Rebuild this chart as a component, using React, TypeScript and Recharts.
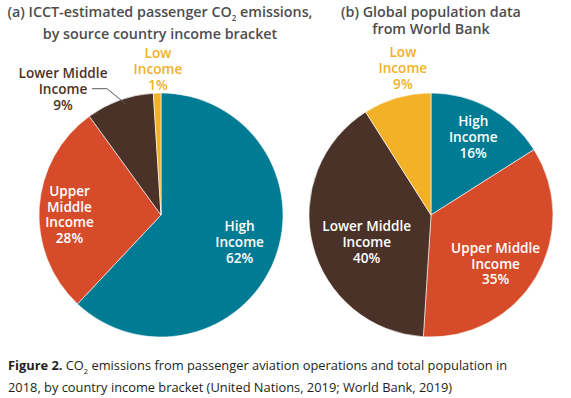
import React from "react";
import { PieChart, Pie, Cell } from "recharts";

// slices go clockwise from 12 o'clock
const categories = ["High Income", "Upper Middle Income", "Lower Middle Income", "Low Income"];
const emissionsShare = [62, 28, 9, 1];
const populationShare = [16, 35, 40, 9];
const sliceColors = ["#007b94", "#d64c2a", "#4b3229", "#f2b127"];

const emissionsLabelLines = [
  ["High", "Income", "62%"],
  ["Upper", "Middle", "Income", "28%"],
  ["Lower Middle", "Income", "9%"],
  ["Low", "Income", "1%"],
];
const populationLabelLines = [
  ["High", "Income", "16%"],
  ["Upper Middle", "Income", "35%"],
  ["Lower Middle", "Income", "40%"],
  ["Low", "Income", "9%"],
];

// label placement: radius factor, angle nudge (deg), outside = coloured text
const emissionsLabelPos = [
  { r: 0.68, shift: 3, outside: false, leader: false },
  { r: 0.75, shift: 3, outside: false, leader: false },
  { r: 1.31, shift: 18, outside: true, leader: true },
  { r: 1.2, shift: -0.6, outside: true, leader: false },
];
const populationLabelPos = [
  { r: 0.73, shift: 0.5, outside: false, leader: false },
  { r: 0.66, shift: -6, outside: false, leader: false },
  { r: 0.57, shift: 8, outside: false, leader: false },
  { r: 1.23, shift: -5.4, outside: true, leader: false },
];

const FONT = "'Open Sans', sans-serif";
const RAD = Math.PI / 180;

const toRows = (values: number[]) =>
  categories.map((name, i) => ({ name, value: values[i] }));

function makeLabel(lines: string[][], pos: typeof emissionsLabelPos) {
  return (props: any) => {
    const { cx, cy, midAngle, outerRadius, index } = props;
    const p = pos[index];
    const a = (midAngle + p.shift) * RAD;
    const x = cx + outerRadius * p.r * Math.cos(a);
    const y = cy - outerRadius * p.r * Math.sin(a);
    const ls = lines[index];
    const lh = 15.8;
    const top = y - ((ls.length - 1) * lh) / 2;
    const fill = p.outside ? sliceColors[index] : "#ffffff";
    let leader = null;
    if (p.leader) {
      const ma = (midAngle - 2) * RAD;
      const ax = cx + outerRadius * 0.96 * Math.cos(ma);
      const ay = cy - outerRadius * 0.96 * Math.sin(ma);
      const ly = top + lh;
      leader = (
        <polyline
          points={`${x + 29},${ly} ${x + 44},${ly} ${ax},${ay}`}
          fill="none"
          stroke="#58595b"
          strokeWidth={1}
        />
      );
    }
    return (
      <g>
        {leader}
        <text
          x={x}
          y={top}
          fill={fill}
          textAnchor="middle"
          fontFamily={FONT}
          fontWeight={600}
          fontSize={13.6}
        >
          {ls.map((t, i) => (
            <tspan key={i} x={x} y={top + i * lh} dominantBaseline="central">
              {t}
            </tspan>
          ))}
        </text>
      </g>
    );
  };
}

const titleStyle: React.CSSProperties = {
  position: "absolute",
  top: 4,
  textAlign: "center",
  fontFamily: FONT,
  fontWeight: 600,
  fontSize: 14.3,
  lineHeight: "16.5px",
  color: "#4d4d4f",
  whiteSpace: "nowrap",
};

export default function App() {
  return (
    <div style={{ position: "relative", width: 571, height: 398, background: "#fff", overflow: "hidden" }}>
      <style>{`body{margin:0}`}</style>
      <div style={{ ...titleStyle, left: 0, width: 320 }}>
        (a) ICCT-estimated passenger CO<sub style={{ fontSize: 8 }}>2</sub> emissions,
        <br />
        by source country income bracket
      </div>
      <div style={{ ...titleStyle, left: 331, width: 200 }}>
        (b) Global population data
        <br />
        from World Bank
      </div>
      <PieChart
        width={571}
        height={398}
        margin={{ top: 0, right: 0, bottom: 0, left: 0 }}
        style={{ position: "absolute", left: 0, top: 0 }}
      >
        <Pie
          data={toRows(emissionsShare)}
          dataKey="value"
          nameKey="name"
          cx={161}
          cy={215}
          outerRadius={122}
          startAngle={90}
          endAngle={-270}
          stroke="#ffffff"
          strokeWidth={0.6}
          labelLine={false}
          label={makeLabel(emissionsLabelLines, emissionsLabelPos)}
          isAnimationActive={false}
        >
          {emissionsShare.map((_, i) => (
            <Cell key={i} fill={sliceColors[i]} />
          ))}
        </Pie>
        <Pie
          data={toRows(populationShare)}
          dataKey="value"
          nameKey="name"
          cx={431}
          cy={215}
          outerRadius={122}
          startAngle={90}
          endAngle={-270}
          stroke="#ffffff"
          strokeWidth={0.6}
          labelLine={false}
          label={makeLabel(populationLabelLines, populationLabelPos)}
          isAnimationActive={false}
        >
          {populationShare.map((_, i) => (
            <Cell key={i} fill={sliceColors[i]} />
          ))}
        </Pie>
      </PieChart>
      <div
        style={{
          position: "absolute",
          left: 8,
          top: 357,
          fontFamily: FONT,
          fontSize: 12.85,
          lineHeight: "16.5px",
          color: "#231f20",
          whiteSpace: "nowrap",
        }}
      >
        <b>Figure 2.</b> CO<sub style={{ fontSize: 7.5 }}>2</sub> emissions from passenger aviation operations and total population in
        <br />
        2018, by country income bracket (United Nations, 2019; World Bank, 2019)
      </div>
    </div>
  );
}
